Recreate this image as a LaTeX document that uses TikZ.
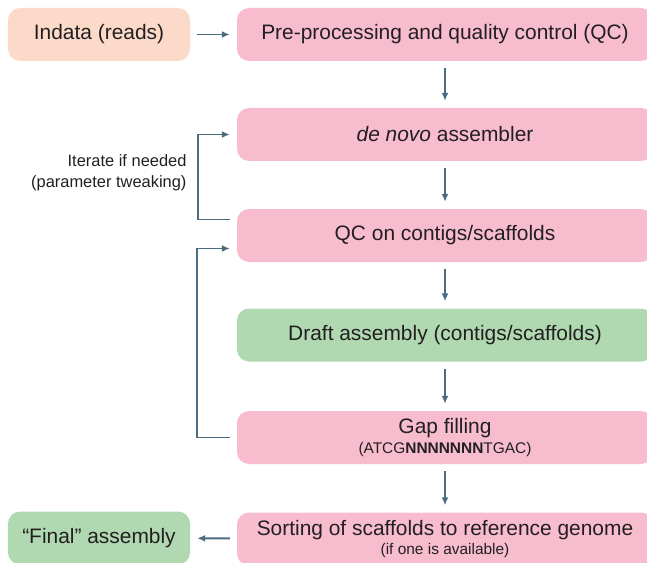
\documentclass[tikz,border=0pt]{standalone}
\usepackage{xcolor}
\usepackage{fontspec}
\setmainfont{Liberation Sans}
\usepackage{tikz}
\usetikzlibrary{arrows.meta}
\definecolor{asmPeach}{HTML}{FCDAC9}
\definecolor{asmPink}{HTML}{F7BDCE}
\definecolor{asmGreen}{HTML}{B0D9B1}
\definecolor{asmArrow}{HTML}{4A6C7E}
\definecolor{asmText}{HTML}{231F20}

\begin{document}
\begin{tikzpicture}[
  x=1bp, y=-1bp,
  every node/.style={font=\fontsize{21}{25}\selectfont, text=asmText},
  box/.style={rounded corners=12bp, minimum height=53bp, inner sep=0pt, align=center},
  sidebox/.style={box, minimum width=182bp},
  mainbox/.style={box, minimum width=416bp, fill=asmPink},
  flow/.style={draw=asmArrow, line width=1.9bp, shorten <=7bp, shorten >=7bp,
    -{Latex[length=8bp,width=7bp]}}
]
  \path[use as bounding box] (0,0) rectangle (647,563);
  \clip (0,0) rectangle (647,563);

  % left column
  \node[sidebox, fill=asmPeach] (indata) at (99,34.5) {Indata (reads)};
  \node[sidebox, fill=asmGreen] (final) at (99,538) {``Final'' assembly};

  % main column
  \node[mainbox] (preqc) at (445,34.5) {Pre-processing and quality control (QC)};
  \node[mainbox] (denovo) at (445,134.5) {\textit{de novo} assembler};
  \node[mainbox] (qcctg) at (445,235.5) {QC on contigs/scaffolds};
  \node[mainbox, fill=asmGreen] (draft) at (445,335) {Draft assembly (contigs/scaffolds)};
  \node[mainbox] (gapfill) at (445,437.5) {Gap filling\\[-4bp]
    {\fontsize{15.5}{18}\selectfont (ATCG\textbf{NNNNNNN}TGAC)}};
  \node[mainbox] (sorting) at (445,539) {Sorting of scaffolds to reference genome\\[-5bp]
    {\fontsize{15.5}{18}\selectfont (if one is available)}};

  \node[anchor=east, align=right, font=\fontsize{16.5}{21}\selectfont] (iterlbl)
    at (190,173) {Iterate if needed\\(parameter tweaking)};

  % connectors
  \draw[flow] (indata) -- (preqc);
  \draw[flow] (preqc) -- (denovo);
  \draw[flow] (denovo) -- (qcctg);
  \draw[flow] (qcctg) -- (draft);
  \draw[flow] (draft) -- (gapfill);
  \draw[flow] (gapfill) -- (sorting);
  \draw[flow] (sorting) -- (final);

  % feedback loops
  \draw[flow] ([yshift=16bp]qcctg.west) -- ++(-39,0) |- (denovo.west);
  \draw[flow] (gapfill.west) -- ++(-40,0) |- ([yshift=-13bp]qcctg.west);
\end{tikzpicture}
\end{document}
